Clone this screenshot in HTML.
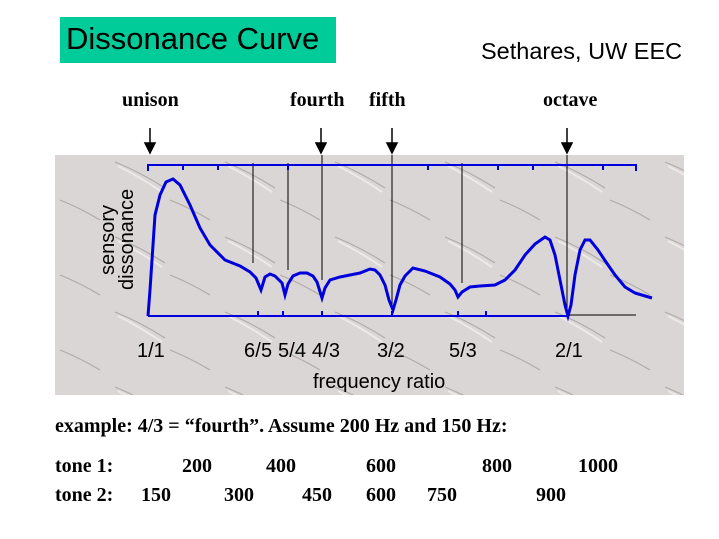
<!DOCTYPE html>
<html><head><style>
body{margin:0;width:719px;height:539px;background:#fff;position:relative;overflow:hidden;font-family:"Liberation Serif",serif}
.t{position:absolute;white-space:nowrap}
</style></head><body>
<div class="t" style="left:60px;top:17px;width:276px;height:46px;background:#00cc99"></div>
<div class="t" style="left:66px;top:21px;font:31px 'Liberation Sans',sans-serif;color:#000">Dissonance Curve</div>
<div class="t" style="left:481px;top:38px;font:23.5px 'Liberation Sans',sans-serif">Sethares, UW EEC</div>
<div class="t" style="left:122px;top:89px;font-weight:bold;font-size:20px">unison</div>
<div class="t" style="left:290px;top:89px;font-weight:bold;font-size:20px">fourth</div>
<div class="t" style="left:369px;top:89px;font-weight:bold;font-size:20px">fifth</div>
<div class="t" style="left:543px;top:89px;font-weight:bold;font-size:20px">octave</div>
<svg width="719" height="539" style="position:absolute;left:0;top:0">
<defs><pattern id="p" width="110" height="75" patternUnits="userSpaceOnUse">
<rect width="110" height="75" fill="#dad6d5"/>
<path d="M5 12 Q30 22 55 38 M60 50 Q80 58 100 70" stroke="#b0aaa8" stroke-width="1.2" fill="none"/>
<path d="M8 16 Q30 27 52 42" stroke="#eceae9" stroke-width="2" fill="none"/>
</pattern></defs>
<rect x="55" y="155" width="629" height="240" fill="url(#p)"/>
<g stroke="#000" stroke-width="1.5" fill="#000">
<line x1="150" y1="128" x2="150" y2="148"/><polygon points="145,143 155,143 150,153"/>
<line x1="321" y1="128" x2="321" y2="148"/><polygon points="316,143 326,143 321,153"/>
<line x1="392" y1="128" x2="392" y2="148"/><polygon points="387,143 397,143 392,153"/>
<line x1="567" y1="128" x2="567" y2="148"/><polygon points="562,143 572,143 567,153"/>
</g>
<g stroke="#000" stroke-width="1">
<line x1="253" y1="163" x2="253" y2="263"/><line x1="288" y1="163" x2="288" y2="270"/>
<line x1="322" y1="155" x2="322" y2="280"/><line x1="392" y1="155" x2="392" y2="310"/>
<line x1="462" y1="163" x2="462" y2="283"/><line x1="567" y1="155" x2="567" y2="316"/>
<line x1="567" y1="315" x2="636" y2="315"/>
</g>
<g stroke="#0000dd" stroke-width="2" fill="none">
<polyline points="148,171 148,165 636,165 636,171"/>
<path d="M183 165v5M218 165v5M288 165v5M428 165v5M498 165v5M533 165v5M603 165v5"/>
<line x1="148" y1="316" x2="567" y2="316"/>
<path d="M258 316v-5M283 316v-5M322 316v-5M392 316v-5M458 316v-5M486 316v-5"/>
<polyline stroke-width="3" points="148,316 150,290 155,215 160,195 166,182 173,179 180,185 190,205 200,228 210,245 225,260 240,266 250,272 256,278 261,290 265,277 270,274 275,276 282,283 285,295 288,284 293,276 300,273 307,273 313,276 317,282 322,298 325,288 330,280 340,277 350,275 360,273 370,269 375,270 380,275 385,285 389,300 393,310 396,300 400,285 405,276 413,268 425,271 440,277 450,284 455,290 458,297 462,292 470,287 480,286 495,285 505,280 515,270 525,255 535,244 545,237 550,240 555,255 560,280 565,305 568,316 571,305 575,275 580,250 585,240 590,240 598,250 606,262 615,275 625,287 635,293 652,298"/>
</g>
<g font-family="Liberation Sans,sans-serif" font-size="20" fill="#000">
<text x="137" y="357">1/1</text>
<text x="244" y="357" textLength="96">6/5 5/4 4/3</text>
<text x="377" y="357">3/2</text>
<text x="449" y="357">5/3</text>
<text x="555" y="357">2/1</text>
<text x="313" y="388">frequency ratio</text>
<text transform="translate(114,275) rotate(-90)">sensory</text>
<text transform="translate(133,290) rotate(-90)">dissonance</text>
</g>
</svg>
<div class="t" style="left:55px;top:415px;font-weight:bold;font-size:20px">example: 4/3 = “fourth”. Assume 200 Hz and 150 Hz:</div>
<div class="t" style="left:55px;top:455px;font-weight:bold;font-size:20px">tone 1:</div>
<div class="t" style="left:182px;top:455px;font-weight:bold;font-size:20px">200</div>
<div class="t" style="left:266px;top:455px;font-weight:bold;font-size:20px">400</div>
<div class="t" style="left:366px;top:455px;font-weight:bold;font-size:20px">600</div>
<div class="t" style="left:482px;top:455px;font-weight:bold;font-size:20px">800</div>
<div class="t" style="left:578px;top:455px;font-weight:bold;font-size:20px">1000</div>
<div class="t" style="left:55px;top:484px;font-weight:bold;font-size:20px">tone 2:</div>
<div class="t" style="left:141px;top:484px;font-weight:bold;font-size:20px">150</div>
<div class="t" style="left:224px;top:484px;font-weight:bold;font-size:20px">300</div>
<div class="t" style="left:302px;top:484px;font-weight:bold;font-size:20px">450</div>
<div class="t" style="left:366px;top:484px;font-weight:bold;font-size:20px">600</div>
<div class="t" style="left:427px;top:484px;font-weight:bold;font-size:20px">750</div>
<div class="t" style="left:536px;top:484px;font-weight:bold;font-size:20px">900</div>
</body></html>
